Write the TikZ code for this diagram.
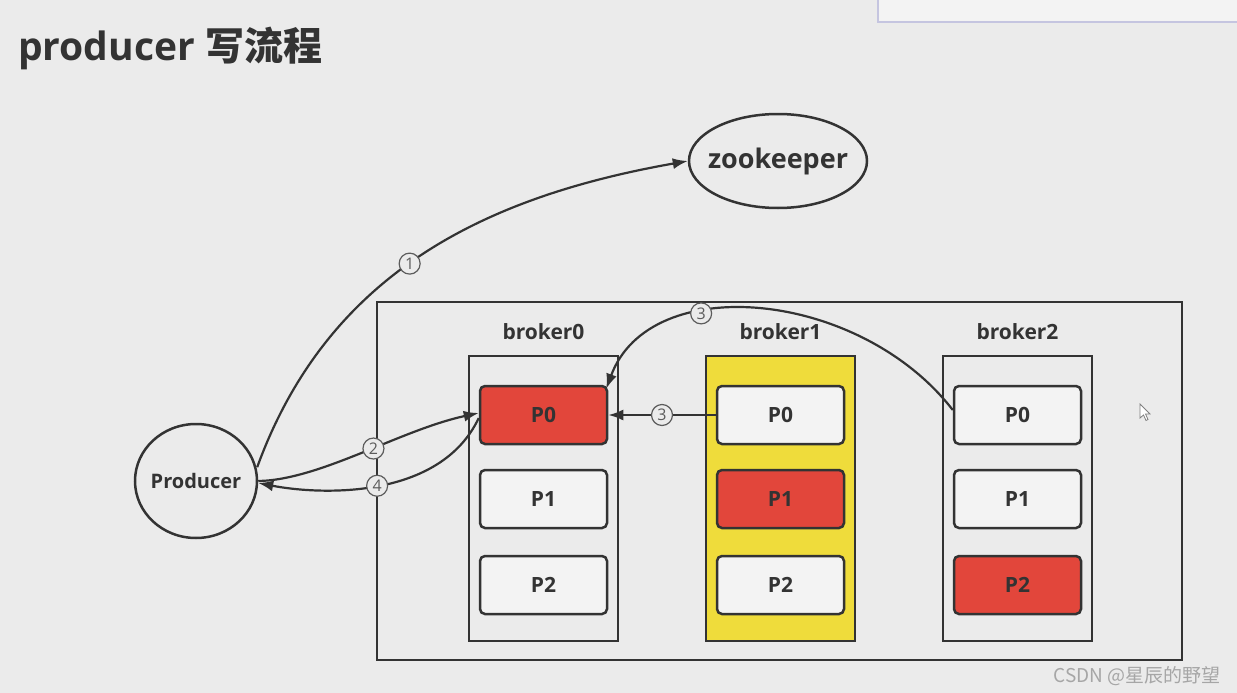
\documentclass[tikz,border=0pt]{standalone}
\usepackage{fontspec}
\setmainfont{Open Sans}
\newfontfamily\cjk{Noto Sans CJK SC}
\usetikzlibrary{arrows.meta,shapes.geometric}
\definecolor{bgcol}{HTML}{EBEBEB}
\definecolor{inkcol}{HTML}{333333}
\definecolor{partred}{HTML}{E2463B}
\definecolor{partwhite}{HTML}{F3F3F3}
\definecolor{brkyellow}{HTML}{EFDC3B}
\tikzset{
    lbl/.style={text=inkcol,font=\bfseries\fontsize{21}{24}\selectfont},
    roundbox/.style={draw=inkcol,line width=2.5pt,ellipse,lbl},
    brkbox/.style={draw=inkcol,line width=2.5pt,minimum width=149pt,minimum height=285pt},
    partbox/.style={draw=inkcol,line width=2.5pt,rounded corners=5pt,fill=partwhite,
        minimum width=127pt,minimum height=58pt,lbl},
    leader/.style={fill=partred},
    stepnum/.style={circle,draw=inkcol!80,line width=1.2pt,fill=bgcol,inner sep=0pt,
        minimum size=21pt,text=inkcol!80,font=\fontsize{16}{16}\selectfont},
    flow/.style={inkcol,line width=2.2pt,-{Latex[length=15pt,width=11pt]}}
}
\begin{document}
\begin{tikzpicture}[x=1pt,y=1pt]
    \fill[bgcol] (0,0) rectangle (1237,-693);
    \useasboundingbox (0,0) rectangle (1237,-693);
    \filldraw[fill=partwhite,draw=blue!30!gray!35,line width=1.5pt] (878,4) rectangle (1242,-22);
    \node[anchor=base west,text=inkcol,font=\bfseries\fontsize{39}{44}\selectfont,inner sep=0pt] (title) at (18,-60) {producer {\cjk\bfseries 写流程}};
    \node[roundbox,minimum width=178pt,minimum height=94pt,font=\bfseries\fontsize{27}{30}\selectfont] (zk) at (778,-161) {\makebox[0pt]{zookeeper}};
    \node[roundbox,minimum width=122pt,minimum height=114pt,font=\bfseries\fontsize{20}{24}\selectfont] (prod) at (196,-481) {\makebox[0pt]{Producer}};
    \node[draw=inkcol,line width=2.8pt,minimum width=805pt,minimum height=358pt] (cluster) at (779.5,-481) {};
    \node[brkbox] (brk0) at (543.5,-498.5) {};
    \node[brkbox,fill=brkyellow] (brk1) at (780.5,-498.5) {};
    \node[brkbox] (brk2) at (1017.5,-498.5) {};
    \node[lbl] (brk0name) at (543.5,-332) {broker0};
    \node[lbl] (brk1name) at (780.5,-332) {broker1};
    \node[lbl] (brk2name) at (1017.5,-332) {broker2};
    \node[partbox,leader] (b0p0) at (543.5,-415) {P0};
    \node[partbox] (b0p1) at (543.5,-499) {P1};
    \node[partbox] (b0p2) at (543.5,-585) {P2};
    \node[partbox] (b1p0) at (780.5,-415) {P0};
    \node[partbox,leader] (b1p1) at (780.5,-499) {P1};
    \node[partbox] (b1p2) at (780.5,-585) {P2};
    \node[partbox] (b2p0) at (1017.5,-415) {P0};
    \node[partbox] (b2p1) at (1017.5,-499) {P1};
    \node[partbox,leader] (b2p2) at (1017.5,-585) {P2};
    \coordinate (prodout) at ([yshift=3pt]prod.10);
    \draw[flow] (prodout) to[out=70,in=190] node[stepnum,pos=0.47] {1} (zk.west);
    \draw[flow] (prod.east) .. controls (320,-480) and (400,-430) .. node[stepnum,pos=0.55] {2} ([yshift=2pt]b0p0.west);
    \draw[flow] ([yshift=-3pt]b0p0.west) .. controls (440,-500) and (320,-495) .. node[stepnum,pos=0.5] {4} ([yshift=-2pt]prod.east);
    \draw[flow] (b1p0.west) -- node[stepnum] {3} (b0p0.east);
    \draw[flow] ([yshift=5pt]b2p0.west) .. controls (860,-290) and (650,-270) .. node[stepnum,pos=0.65] {3} ([xshift=-2pt,yshift=-4pt]b0p0.north east);
    \filldraw[fill=white,draw=gray,line width=0.8pt] (1140,-404) -- (1140,-418) -- (1143.5,-415) -- (1146,-420.5) -- (1148,-419.5) -- (1145.5,-414) -- (1150,-414) -- cycle;
    \node[text=gray!70,font=\cjk\fontsize{19}{21}\selectfont] (mark) at (1137,-676) {CSDN @星辰的野望};
\end{tikzpicture}
\end{document}
